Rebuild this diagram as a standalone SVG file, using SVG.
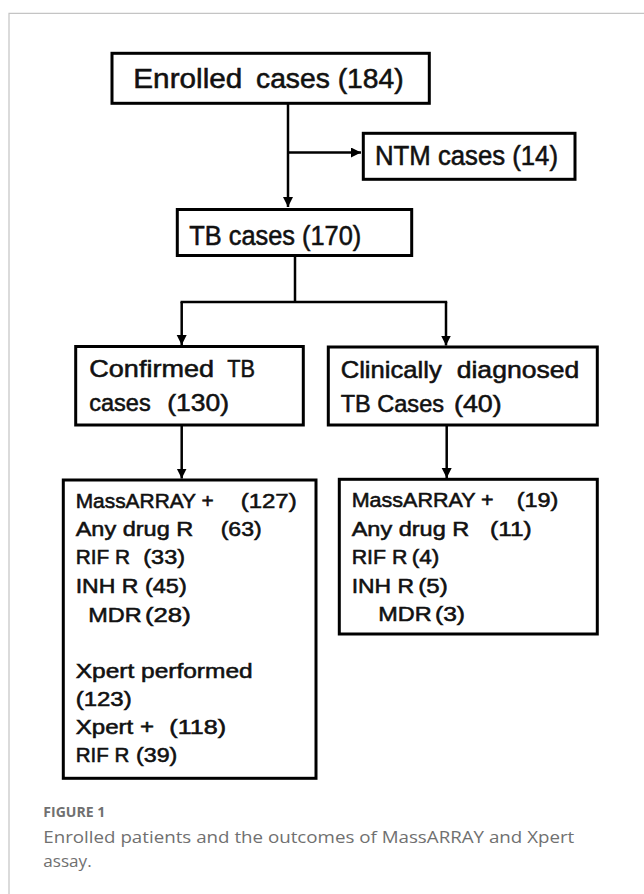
<svg xmlns="http://www.w3.org/2000/svg" width="644" height="894" viewBox="0 0 644 894">
<style>
.box{fill:#fff;stroke:#000;stroke-width:3}
.t{font-family:"Liberation Sans",Arial,sans-serif;fill:#111;stroke:#111;stroke-width:0.55}
.t28{font-size:28px}
.t27{font-size:27px}
.t24{font-size:24px}
.t21{font-size:20.5px}
.con{fill:none;stroke:#000;stroke-width:2.5}
.frame{fill:none;stroke:#c4c4c4;stroke-width:1.2}
.cap{font-family:"Open Sans","Liberation Sans",sans-serif;fill:#707070}
</style>
<defs>
<marker id="ah" markerUnits="userSpaceOnUse" markerWidth="11" markerHeight="11" refX="10" refY="5" orient="auto">
<path d="M0,0 L10,5 L0,10 z" fill="#000"/>
</marker>
</defs>
<rect width="644" height="894" fill="#fff"/>
<path class="frame" d="M9,894 V13.3 H644"/>
<g id="connectors">
<path class="con" d="M288,104 V207" marker-end="url(#ah)"/>
<path class="con" d="M288,152.5 H361" marker-end="url(#ah)"/>
<path class="con" d="M295,256 V302 M180.5,302 H447.2"/>
<path class="con" d="M181.7,302 V345" marker-end="url(#ah)"/>
<path class="con" d="M446,302 V345.5" marker-end="url(#ah)"/>
<path class="con" d="M181.7,426 V478.5" marker-end="url(#ah)"/>
<path class="con" d="M446.7,426 V478" marker-end="url(#ah)"/>
</g>
<g id="enrolled">
<rect class="box" x="112" y="53.3" width="317.3" height="50"/>
<text class="t t28" x="133.3" y="88.3" textLength="109" lengthAdjust="spacingAndGlyphs">Enrolled </text>
<text class="t t28" x="256" y="88.3" textLength="147.7" lengthAdjust="spacingAndGlyphs">cases (184)</text>
</g>
<g id="ntm">
<rect class="box" x="363.3" y="133.3" width="211.7" height="46"/>
<text class="t t27" x="375" y="165" textLength="183" lengthAdjust="spacingAndGlyphs">NTM cases (14)</text>
</g>
<g id="tb">
<rect class="box" x="177.3" y="209.5" width="234.4" height="46"/>
<text class="t t27" x="189.3" y="245" textLength="172" lengthAdjust="spacingAndGlyphs">TB cases (170)</text>
</g>
<g id="confirmed">
<rect class="box" x="75.7" y="346.5" width="227.6" height="78.5"/>
<text class="t t24" x="89.3" y="377.3" textLength="124.7" lengthAdjust="spacingAndGlyphs">Confirmed </text>
<text class="t t24" x="227.3" y="377.3" textLength="27.7" lengthAdjust="spacingAndGlyphs">TB</text>
<text class="t t24" x="89.3" y="410.7" textLength="61.4" lengthAdjust="spacingAndGlyphs">cases </text>
<text class="t t24" x="167.3" y="410.7" textLength="61.7" lengthAdjust="spacingAndGlyphs">(130)</text>
</g>
<g id="clinical">
<rect class="box" x="328.3" y="347" width="269" height="78"/>
<text class="t t24" x="340.7" y="378.3" textLength="101" lengthAdjust="spacingAndGlyphs">Clinically </text>
<text class="t t24" x="456.7" y="378.3" textLength="122.6" lengthAdjust="spacingAndGlyphs">diagnosed</text>
<text class="t t24" x="340.7" y="411.7" textLength="103.3" lengthAdjust="spacingAndGlyphs">TB Cases </text>
<text class="t t24" x="454" y="411.7" textLength="47.7" lengthAdjust="spacingAndGlyphs">(40)</text>
</g>
<g id="confirmed-results">
<rect class="box" x="63.3" y="480" width="252.7" height="298.3"/>
<text class="t t21" x="75.7" y="507.5" textLength="138" lengthAdjust="spacingAndGlyphs">MassARRAY + </text>
<text class="t t21" x="240.7" y="507.5" textLength="56" lengthAdjust="spacingAndGlyphs">(127)</text>
<text class="t t21" x="75.7" y="536" textLength="117.6" lengthAdjust="spacingAndGlyphs">Any drug R </text>
<text class="t t21" x="220.7" y="536" textLength="41" lengthAdjust="spacingAndGlyphs">(63)</text>
<text class="t t21" x="75.7" y="564" textLength="54.3" lengthAdjust="spacingAndGlyphs">RIF R </text>
<text class="t t21" x="143.3" y="564" textLength="41.7" lengthAdjust="spacingAndGlyphs">(33)</text>
<text class="t t21" x="75.7" y="593" textLength="62.6" lengthAdjust="spacingAndGlyphs">INH R </text>
<text class="t t21" x="145" y="593" textLength="41.7" lengthAdjust="spacingAndGlyphs">(45)</text>
<text class="t t21" x="88.3" y="621.5" textLength="53.4" lengthAdjust="spacingAndGlyphs">MDR </text>
<text class="t t21" x="145" y="621.5" textLength="45.7" lengthAdjust="spacingAndGlyphs">(28)</text>
<text class="t t21" x="75.7" y="677.5" textLength="177" lengthAdjust="spacingAndGlyphs">Xpert performed</text>
<text class="t t21" x="75.7" y="706" textLength="56" lengthAdjust="spacingAndGlyphs">(123)</text>
<text class="t t21" x="75.7" y="734" textLength="78.3" lengthAdjust="spacingAndGlyphs">Xpert + </text>
<text class="t t21" x="169.3" y="734" textLength="56.7" lengthAdjust="spacingAndGlyphs">(118)</text>
<text class="t t21" x="75.7" y="762" textLength="53.6" lengthAdjust="spacingAndGlyphs">RIF R </text>
<text class="t t21" x="136" y="762" textLength="41.3" lengthAdjust="spacingAndGlyphs">(39)</text>
</g>
<g id="clinical-results">
<rect class="box" x="339.3" y="479.3" width="258" height="154.7"/>
<text class="t t21" x="351.7" y="506.7" textLength="142" lengthAdjust="spacingAndGlyphs">MassARRAY + </text>
<text class="t t21" x="516.7" y="506.7" textLength="41.6" lengthAdjust="spacingAndGlyphs">(19)</text>
<text class="t t21" x="351.7" y="535.5" textLength="117.6" lengthAdjust="spacingAndGlyphs">Any drug R </text>
<text class="t t21" x="490" y="535.5" textLength="41.7" lengthAdjust="spacingAndGlyphs">(11)</text>
<text class="t t21" x="351.7" y="564" textLength="55.6" lengthAdjust="spacingAndGlyphs">RIF R </text>
<text class="t t21" x="411.7" y="564" textLength="27.6" lengthAdjust="spacingAndGlyphs">(4)</text>
<text class="t t21" x="351.7" y="593.3" textLength="62.3" lengthAdjust="spacingAndGlyphs">INH R </text>
<text class="t t21" x="418.3" y="593.3" textLength="29.4" lengthAdjust="spacingAndGlyphs">(5)</text>
<text class="t t21" x="378.3" y="621" textLength="53.4" lengthAdjust="spacingAndGlyphs">MDR </text>
<text class="t t21" x="435" y="621" textLength="30" lengthAdjust="spacingAndGlyphs">(3)</text>
</g>
<g id="caption">
<text class="cap" x="43.3" y="817.3" font-size="13.5" font-weight="bold" fill="#7a7a7a" textLength="62" lengthAdjust="spacingAndGlyphs">FIGURE 1</text>
<text class="cap" x="43.3" y="843.3" font-size="16.5" textLength="531" lengthAdjust="spacingAndGlyphs">Enrolled patients and the outcomes of MassARRAY and Xpert</text>
<text class="cap" x="43.3" y="867.3" font-size="16.5" textLength="48.4" lengthAdjust="spacingAndGlyphs">assay.</text>
</g>
</svg>
